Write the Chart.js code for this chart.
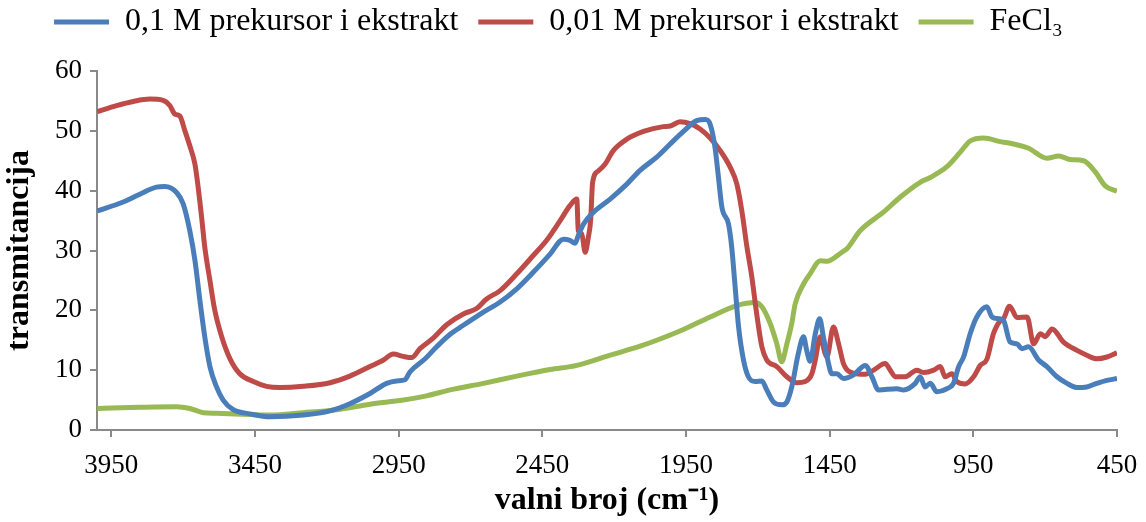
<!DOCTYPE html>
<html>
<head>
<meta charset="utf-8">
<script src="https://cdn.jsdelivr.net/npm/chart.js@4/dist/chart.umd.min.js"></script>
<style>
  body { margin: 0; background: #fff; }
  canvas { display: block; }
</style>
</head>
<body>
<canvas id="irChart" width="1146" height="522"></canvas>
<script>
// Series labels
const seriesNames = ["0,1 M prekursor i ekstrakt", "0,01 M prekursor i ekstrakt", "FeCl\u2083"];

// x axis tick labels (wavenumber, cm-1)
const xTickValues = [3950, 3450, 2950, 2450, 1950, 1450, 950, 450];

// 0,1 M precursor + extract (blue)
const blueX = [3999, 3909, 3851, 3793, 3764, 3723, 3700, 3677, 3659, 3642, 3625, 3607, 3584, 3561, 3526, 3468,
  3398, 3282, 3189, 3120, 3050, 2992, 2957, 2928, 2911, 2858, 2818, 2771, 2725, 2655, 2597, 2539, 2481, 2423,
  2377, 2354, 2336, 2325, 2307, 2272, 2214, 2156, 2110, 2052, 2005, 1959, 1913, 1883, 1866, 1849, 1837, 1825,
  1802, 1791, 1779, 1767, 1750, 1733, 1709, 1686, 1669, 1646, 1617, 1599, 1582, 1559, 1541, 1530, 1518, 1500,
  1485, 1472, 1454, 1443, 1425, 1402, 1367, 1326, 1303, 1280, 1216, 1193, 1152, 1135, 1118, 1100, 1077, 1042,
  1019, 1001, 984, 961, 938, 903, 885, 862, 845, 822, 798, 781, 758, 723, 694, 659, 624, 589, 555, 520, 485, 450];
const blueY = [36.6, 38.1, 39.4, 40.6, 40.7, 39.7, 37.8, 33.3, 28.3, 21.7, 15.6, 10.6, 7.2, 5.0, 3.4, 2.7,
  2.2, 2.5, 3.2, 4.4, 6.1, 7.8, 8.2, 8.4, 9.7, 11.9, 13.9, 16.0, 17.5, 19.7, 21.4, 23.6, 26.4, 29.4,
  31.9, 31.7, 31.2, 32.5, 34.4, 36.4, 38.6, 41.1, 43.4, 45.6, 47.8, 49.9, 51.7, 51.9, 51.1, 47.2, 42.2, 37.2,
  34.4, 30.6, 23.9, 17.2, 11.7, 8.9, 8.1, 8.2, 6.7, 4.7, 4.2, 4.7, 7.2, 12.8, 15.6, 13.3, 11.5, 16.1,
  18.6, 15.6, 11.1, 9.4, 9.4, 8.6, 9.2, 10.8, 8.9, 6.7, 6.9, 6.7, 7.8, 8.9, 7.2, 7.8, 6.4, 6.9,
  7.8, 10.6, 12.2, 16.1, 18.9, 20.6, 18.9, 18.6, 18.3, 14.7, 14.4, 13.6, 13.9, 11.7, 10.6, 8.9, 7.8, 7.1, 7.2, 7.8, 8.3, 8.6];

// 0,01 M precursor + extract (red)
const redX = [3999, 3932, 3874, 3816, 3770, 3746, 3729, 3712, 3694, 3677, 3659, 3648, 3636, 3625, 3607, 3590,
  3566, 3537, 3503, 3456, 3410, 3363, 3282, 3189, 3120, 3050, 3003, 2969, 2934, 2905, 2876, 2829, 2783, 2725,
  2679, 2644, 2597, 2539, 2481, 2435, 2388, 2354, 2330, 2325, 2313, 2301, 2290, 2282, 2275, 2255, 2232, 2203,
  2156, 2098, 2029, 2005, 1971, 1936, 1901, 1866, 1831, 1796, 1773, 1756, 1738, 1721, 1704, 1686, 1669, 1634,
  1599, 1564, 1535, 1512, 1500, 1483, 1466, 1460, 1437, 1419, 1402, 1379, 1326, 1297, 1257, 1239, 1222, 1187,
  1147, 1123, 1088, 1065, 1048, 1025, 1007, 978, 949, 926, 903, 880, 856, 845, 824, 798, 763, 740, 717, 700,
  676, 636, 589, 555, 520, 485, 450];
const redY = [53.2, 54.2, 54.9, 55.3, 55.1, 54.2, 52.8, 52.5, 50.0, 47.5, 44.4, 40.6, 35.6, 30.6, 25.0, 20.0,
  15.6, 11.9, 9.4, 8.1, 7.3, 7.1, 7.3, 7.9, 9.0, 10.6, 11.7, 12.7, 12.3, 12.1, 13.6, 15.4, 17.6, 19.4,
  20.3, 21.9, 23.3, 26.1, 29.2, 31.7, 35.0, 37.5, 38.6, 33.3, 32.8, 29.7, 32.2, 35.0, 41.4, 43.3, 44.4, 46.7,
  48.6, 49.9, 50.7, 50.8, 51.5, 51.2, 50.3, 48.8, 46.7, 43.9, 41.1, 36.7, 30.6, 25.6, 19.4, 13.9, 11.7, 10.6,
  8.9, 7.9, 8.1, 9.4, 11.7, 15.6, 12.8, 12.2, 17.2, 14.4, 11.1, 9.7, 9.3, 10.0, 11.1, 10.0, 8.9, 8.9,
  10.0, 9.6, 10.0, 10.6, 8.9, 9.4, 8.1, 7.7, 8.9, 10.8, 11.8, 16.1, 18.3, 18.6, 20.7, 18.8, 18.9, 14.4, 16.1, 15.6,
  16.9, 14.7, 13.3, 12.5, 11.9, 12.2, 12.9];

// FeCl3 (green)
const greenX = [3999, 3851, 3723, 3677, 3630, 3584, 3468, 3398, 3282, 3166, 3050, 2934, 2853, 2771, 2655, 2539,
  2423, 2330, 2214, 2110, 2052, 1959, 1866, 1773, 1709, 1686, 1657, 1634, 1617, 1599, 1582, 1570, 1541, 1518,
  1483, 1460, 1408, 1390, 1344, 1263, 1205, 1135, 1100, 1042, 996, 961, 914, 856, 810, 758, 694, 653, 613,
  566, 525, 491, 450];
const greenY = [3.6, 3.8, 3.9, 3.6, 2.9, 2.8, 2.6, 2.5, 2.9, 3.4, 4.3, 5.0, 5.7, 6.7, 7.8, 9.0,
  10.1, 10.8, 12.5, 14.0, 15.0, 16.8, 18.9, 20.8, 21.3, 20.6, 17.8, 14.4, 11.4, 14.4, 17.8, 21.1, 24.4, 26.1,
  28.3, 28.2, 29.7, 30.3, 33.3, 36.4, 38.9, 41.4, 42.2, 44.0, 46.4, 48.3, 48.8, 48.2, 47.8, 47.1, 45.4, 45.8, 45.2,
  45.0, 43.1, 40.8, 39.9];

const seriesColors = ["#4a7ebb", "#be4b48", "#98b954"];
const axisColor = "#898989";
const serif = "'Liberation Serif', 'Times New Roman', serif";

// Zip x/y arrays into point objects
function toPoints(xs, ys) {
  return xs.map((x, i) => ({ x: x, y: ys[i] }));
}

function makeDataset(i, xs, ys) {
  return {
    label: seriesNames[i],
    data: toPoints(xs, ys),
    borderColor: seriesColors[i],
    backgroundColor: seriesColors[i],
    borderWidth: 5,
    pointRadius: 0,
    cubicInterpolationMode: "monotone",
    fill: false
  };
}

// Extra room between legend and plot area
const legendGap = {
  id: "legendGap",
  beforeInit: function (c) {
    if (!c.legend) return;
    const origFit = c.legend.fit;
    c.legend.fit = function () {
      origFit.bind(c.legend)();
      this.height += 23;
    };
  }
};

const chart = {
  init: function () {
    const ctx = document.getElementById("irChart").getContext("2d");

    new Chart(ctx, {
      type: "line",
      data: {
        datasets: [
          makeDataset(0, blueX, blueY),
          makeDataset(1, redX, redY),
          makeDataset(2, greenX, greenY)
        ]
      },
      plugins: [legendGap],
      options: {
        responsive: false,
        animation: false,
        layout: { padding: { top: -14, right: 29, bottom: 0, left: 0 } },
        plugins: {
          tooltip: { enabled: false },
          legend: {
            position: "top",
            labels: {
              boxWidth: 55,
              boxHeight: 5,
              padding: 20,
              color: "#000",
              font: { family: serif, size: 32 },
              generateLabels: function (c) {
                const items = Chart.defaults.plugins.legend.labels.generateLabels(c);
                items.forEach(it => { it.lineWidth = 0; });
                return items;
              }
            }
          }
        },
        scales: {
          x: {
            type: "linear",
            reverse: true,
            min: 450,
            max: 4000,
            afterBuildTicks: function (scale) {
              scale.ticks = xTickValues.map(v => ({ value: v }));
            },
            afterFit: function (scale) {
              scale.height = 92;
              // edge labels fit inside the layout padding already
              scale.paddingLeft = 0;
              scale.paddingRight = 0;
            },
            ticks: {
              color: "#000",
              padding: 13,
              maxRotation: 0,
              autoSkip: false,
              font: { family: serif, size: 27 },
              callback: v => String(v)
            },
            grid: { drawOnChartArea: false, drawTicks: true, tickLength: 7, color: axisColor, lineWidth: 2 },
            border: { color: axisColor, width: 2 },
            title: {
              display: true,
              text: "valni broj (cm\u207B\u00B9)",
              color: "#000",
              font: { family: serif, size: 32, weight: "bold" },
              padding: { top: 0, bottom: 2 }
            }
          },
          y: {
            min: 0,
            max: 60,
            afterFit: function (scale) { scale.width = 97; },
            ticks: {
              stepSize: 10,
              color: "#000",
              padding: 8,
              font: { family: serif, size: 27 }
            },
            grid: { drawOnChartArea: false, drawTicks: true, tickLength: 7, color: axisColor, lineWidth: 2 },
            border: { color: axisColor, width: 2 },
            title: {
              display: true,
              text: "transmitancija",
              color: "#000",
              font: { family: serif, size: 32, weight: "bold" },
              padding: { top: 1, bottom: 0 }
            }
          }
        }
      }
    });
  }
};

document.addEventListener("DOMContentLoaded", () => {
  chart.init();
});
</script>
</body>
</html>
